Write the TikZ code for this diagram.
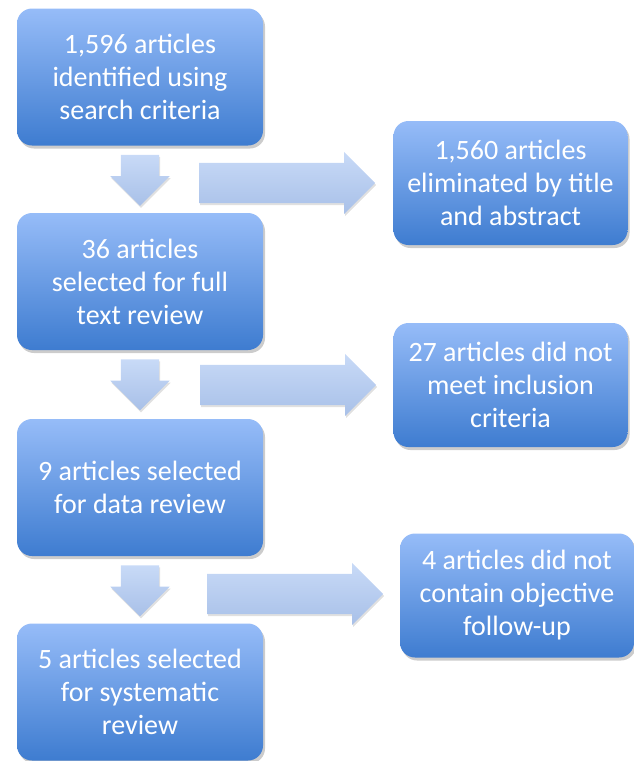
\documentclass[tikz,border=0pt]{standalone}
\usepackage{fontspec}
\setmainfont{Carlito}
\usepackage{tikz}
\usetikzlibrary{calc,shapes.arrows,shadows}

\definecolor{boxtop}{RGB}{150,188,248}
\definecolor{boxbot}{RGB}{62,124,208}
\definecolor{arrtop}{RGB}{200,218,247}
\definecolor{arrbot}{RGB}{168,192,232}

\tikzset{
	stepbox/.style={rounded corners=15pt, top color=boxtop, bottom color=boxbot,
		text=white, align=center, inner sep=0pt,
		font=\fontsize{28}{33}\selectfont,
		drop shadow={shadow xshift=2pt, shadow yshift=-3pt, opacity=0.2, fill=black}},
	leftbox/.style={stepbox, minimum width=246pt, minimum height=137pt},
	rightbox/.style={stepbox, minimum width=234pt, minimum height=124pt},
	flowarrow/.style={shape=single arrow, anchor=tail, top color=arrtop, bottom color=arrbot,
		drop shadow={shadow xshift=1pt, shadow yshift=-2pt, opacity=0.12, fill=black}},
	downarrow/.style={flowarrow, shape border rotate=270, inner xsep=19pt, inner ysep=2pt,
		minimum height=51pt, single arrow head extend=10.5pt},
	sidearrow/.style={flowarrow, inner sep=20pt, minimum height=176pt,
		single arrow head extend=11pt}
}

\begin{document}
\begin{tikzpicture}[x=1pt,y=-1pt]
	\useasboundingbox (0,0) rectangle (634,761);
	%left column, top to bottom
	\node[leftbox] (l1) at (140,77) {1,596 articles\\identified using\\search criteria};
	\node[leftbox] (l2) at (140,281.5) {36 articles\\selected for full\\text review};
	\node[leftbox] (l3) at (140,487.5) {9 articles selected\\for data review};
	\node[leftbox] (l4) at (140,692) {5 articles selected\\for systematic\\review};
	%right column
	\node[rightbox] (r1) at (510.5,183) {1,560 articles\\eliminated by title\\and abstract};
	\node[rightbox] (r2) at (510.5,385) {27 articles did not\\meet inclusion\\criteria};
	\node[rightbox] (r3) at (517,595.5) {4 articles did not\\contain objective\\follow-up};
	%% block arrows down the left column, tails just below each box
	\node[downarrow] (d1) at ($(l1.south)+(0,9)$) {};
	\node[downarrow] (d2) at ($(l2.south)+(0,9)$) {};
	\node[downarrow] (d3) at ($(l3.south)+(0,9)$) {};
	%% block arrows out to the right column
	\node[sidearrow] (s1) at (199,183) {};
	\node[sidearrow] (s2) at (200,385) {};
	\node[sidearrow] (s3) at (207,594) {};
\end{tikzpicture}
\end{document}
